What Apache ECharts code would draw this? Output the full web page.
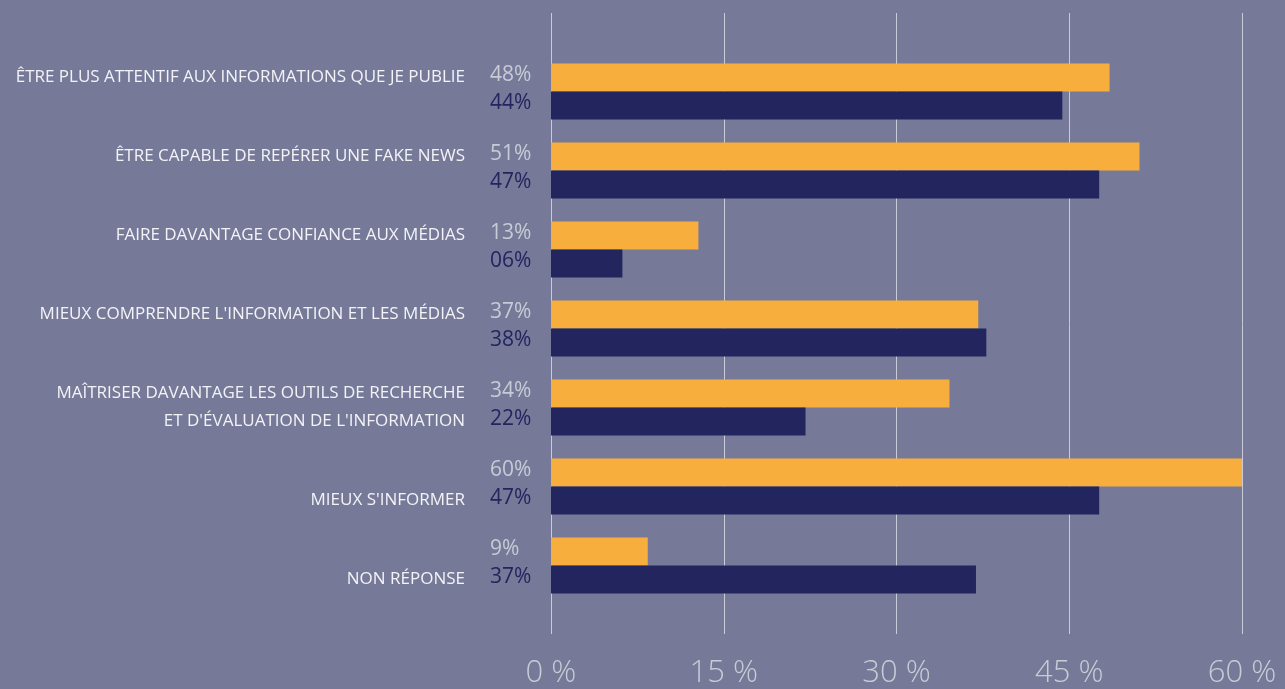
<!DOCTYPE html>
<html>
<head>
<meta charset="utf-8">
<script src="https://cdn.jsdelivr.net/npm/echarts@6/dist/echarts.min.js"></script>
<style>
  html, body { margin: 0; padding: 0; background: #767a98; }
  #chart { width: 1285px; height: 689px; }
</style>
</head>
<body>
<div id="chart"></div>
<script>
// categories (top to bottom)
const categories = [
  "ÊTRE PLUS ATTENTIF AUX INFORMATIONS QUE JE PUBLIE",
  "ÊTRE CAPABLE DE REPÉRER UNE FAKE NEWS",
  "FAIRE DAVANTAGE CONFIANCE AUX MÉDIAS",
  "MIEUX COMPRENDRE L'INFORMATION ET LES MÉDIAS",
  "MAÎTRISER DAVANTAGE LES OUTILS DE RECHERCHE\nET D'ÉVALUATION DE L'INFORMATION",
  "MIEUX S'INFORMER",
  "NON RÉPONSE"
];
// bar lengths (%)
const orangeValues = [48.5, 51.1, 12.8, 37.1, 34.6, 60, 8.4];
const navyValues = [44.4, 47.6, 6.2, 37.8, 22.1, 47.6, 36.9];
// printed labels
const orangeLabels = ["48%", "51%", "13%", "37%", "34%", "60%", "9%"];
const navyLabels = ["44%", "47%", "06%", "38%", "22%", "47%", "37%"];
const xTicks = [0, 15, 30, 45, 60];

// vertical placement of the category text relative to the bar pair
const labelShift = ["up", "up", "up", "up", "", "down", "down"];

const myChart = echarts.init(document.getElementById('chart'));

const option = {
  backgroundColor: '#767a98',
  animation: false,
  grid: [
    { left: 551, right: 43, top: 13, bottom: 52 },
    { left: 551, right: 43, top: 52, height: 553 }
  ],
  xAxis: [
    {
      gridIndex: 0,
      type: 'value',
      min: xTicks[0],
      max: xTicks[xTicks.length - 1],
      interval: 15,
      axisLine: { show: false },
      axisTick: { show: false },
      splitLine: { lineStyle: { color: '#c9cbd9', width: 1 } },
      axisLabel: {
        margin: 24,
        color: '#c9cbd6',
        fontFamily: 'Open Sans',
        fontWeight: 300,
        fontSize: 31,
        formatter: v => v + ' %'
      }
    },
    {
      gridIndex: 1,
      type: 'value',
      min: 0,
      max: 60,
      show: false
    }
  ],
  yAxis: [
    {
      gridIndex: 0,
      type: 'category',
      data: categories,
      show: false
    },
    {
      gridIndex: 1,
      type: 'category',
      inverse: true,
      data: categories,
      axisLine: { show: false },
      axisTick: { show: false },
      axisLabel: {
        margin: 86,
        color: '#f3f3f7',
        fontFamily: 'Open Sans',
        fontSize: 17,
        lineHeight: 28,
        formatter: (v, i) => {
          if (labelShift[i] === 'up') return v + '\n ';
          if (labelShift[i] === 'down') return ' \n' + v;
          return v;
        }
      }
    }
  ],
  series: [
    {
      name: 'orange',
      type: 'bar',
      xAxisIndex: 1,
      yAxisIndex: 1,
      data: orangeValues,
      barWidth: 28,
      barGap: '0%',
      itemStyle: { color: '#f8ae3d' },
      label: {
        show: true,
        position: [-61, '42%'],
        align: 'left',
        verticalAlign: 'middle',
        color: '#c8cad6',
        fontFamily: 'Open Sans',
        fontSize: 21,
        formatter: p => orangeLabels[p.dataIndex]
      }
    },
    {
      name: 'navy',
      type: 'bar',
      xAxisIndex: 1,
      yAxisIndex: 1,
      data: navyValues,
      barWidth: 28,
      barGap: '0%',
      itemStyle: { color: '#23255e' },
      label: {
        show: true,
        position: [-61, '42%'],
        align: 'left',
        verticalAlign: 'middle',
        color: '#23255e',
        fontFamily: 'Open Sans',
        fontSize: 21,
        formatter: p => navyLabels[p.dataIndex]
      }
    }
  ]
};

myChart.setOption(option);
</script>
</body>
</html>
